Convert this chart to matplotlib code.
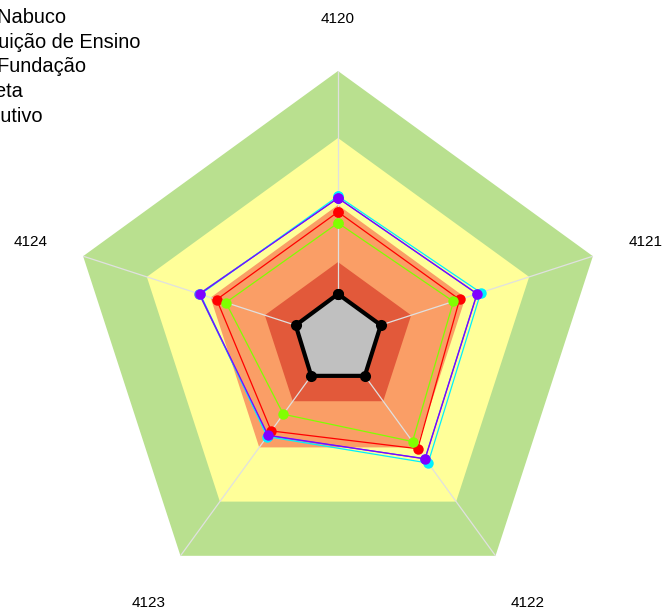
import matplotlib.pyplot as plt
import numpy as np

plt.rcParams['font.family'] = ['Liberation Sans', 'DejaVu Sans']

# axes of the radar
categories = ['4120', '4121', '4122', '4123', '4124']

# background bands (outer limit of each band, 0..1 scale)
band_limits = [1.0, 0.75, 0.5, 0.287]
band_colors = ['#b9e08f', '#ffff99', '#fa9e66', '#e2593a']

# series values
labels = ['Cia. Nabuco', 'Instituição de Ensino', 'Pós-Fundação', 'Indireta', 'Executivo']
blue = [0.526, 0.545, 0.552, 0.446, 0.545]
cyan = [0.533, 0.560, 0.572, 0.450, 0.540]
red = [0.474, 0.477, 0.506, 0.424, 0.476]
green = [0.433, 0.453, 0.473, 0.347, 0.440]
purple = [0.526, 0.546, 0.553, 0.444, 0.543]
black = [0.168, 0.168, 0.170, 0.170, 0.166]


def closed(vals):
    return list(vals) + [vals[0]]


n = len(categories)
theta = np.linspace(0, 2 * np.pi, n, endpoint=False)
theta_c = closed(theta)

fig = plt.figure(figsize=(6.64, 6.10), dpi=100)
ax = fig.add_axes([70 / 664, 3 / 610, 536 / 664, 536 / 610], projection='polar')
ax.set_theta_offset(np.pi / 2)
ax.set_theta_direction(-1)
ax.set_ylim(0, 1)
ax.axis('off')

# bands
for lim, col in zip(band_limits, band_colors):
    ax.fill(theta_c, [lim] * (n + 1), color=col, lw=0, zorder=1)

# spokes
for t in theta:
    ax.plot([t, t], [0, 1], color='#e0e0e0', lw=0.9, zorder=2)

# series
series = [
    (blue, '#3d6bff'),
    (cyan, '#00f0ff'),
    (red, '#ff0000'),
    (green, '#80ff00'),
    (purple, '#8000ff'),
]
handles = []
for vals, col in series:
    h, = ax.plot(theta_c, closed(vals), color=col, lw=0.9, marker='o',
                 markersize=7.5, markeredgewidth=0, zorder=3)
    handles.append(h)

# inner gray series
ax.fill(theta_c, closed(black), color='#c0c0c0', lw=0, zorder=4)
ax.plot(theta_c, closed(black), color='black', lw=3, marker='o',
        markersize=8, markeredgewidth=0, zorder=5)

# category labels
for t, lab in zip(theta, categories):
    ax.annotate(lab, xy=(t, 1.205), xytext=(0, -2), textcoords='offset points',
                ha='center', va='center', fontsize=11, annotation_clip=False)

fig.legend(handles, labels, loc='upper left',
           bbox_to_anchor=(-102 / 664, 1 - 6 / 610),
           frameon=False, fontsize=14.4, borderpad=0.1, borderaxespad=0,
           handlelength=2, handletextpad=0.8, labelspacing=0.285)

fig.savefig('out.png', dpi=100)
